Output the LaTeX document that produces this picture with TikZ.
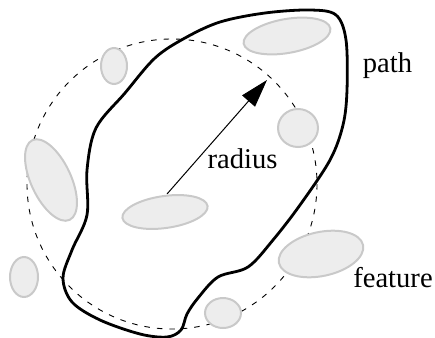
\documentclass[tikz,border=0pt]{standalone}
\usepackage{fontspec}
\setmainfont{Liberation Serif}
\usetikzlibrary{shapes.geometric,arrows.meta}
\tikzset{
  feat/.style={ellipse, draw=black!21, fill=black!7, line width=2pt, inner sep=0pt},
  lbl/.style={anchor=base, inner sep=0pt, font=\fontsize{28.6}{30}\selectfont},
  bound/.style={dashed, dash pattern=on 5.5pt off 7pt, line width=0.9pt},
  outline/.style={line width=2.8pt, line join=round}
}
\begin{document}
\begin{tikzpicture}[x=1pt,y=-1pt]
\useasboundingbox (0,0) rectangle (435,337);
% dashed radius circle
\coordinate (c) at (172,184);
\draw[bound] (c) circle [radius=145];
% radius arrow
\coordinate (rs) at (167,194);
\coordinate (rt) at (267,80);
\draw[line width=1pt, -{Triangle[length=28pt,width=17pt]}] (rs) -- (rt);
% features
\node[feat, minimum width=26pt, minimum height=36pt] (e1) at (114,66) {};
\node[feat, minimum width=88pt, minimum height=34pt, rotate=10] (e2) at (287,36) {};
\node[feat, minimum width=40pt, minimum height=38pt] (e3) at (298,128) {};
\node[feat, minimum width=88pt, minimum height=40pt, rotate=-65] (e4) at (51,180) {};
\node[feat, minimum width=86pt, minimum height=32pt, rotate=8] (e5) at (165,212) {};
\node[feat, minimum width=28pt, minimum height=40pt] (e6) at (24,277) {};
\node[feat, minimum width=86pt, minimum height=44pt, rotate=12] (e7) at (321,254) {};
\node[feat, minimum width=36pt, minimum height=30pt] (e8) at (223,313) {};
% path outline
\draw[outline] plot[smooth cycle, tension=0.55] coordinates {
 (220,22) (265,13) (310,10) (336,15) (346,40) (347,90) (343,125) (330,160)
 (300,205) (273,240) (248,267) (218,277) (198,298) (187,314) (181,330) (167,337)
 (140,334) (100,320) (72,302) (63,278) (72,250) (87,215) (87,170) (96,128)
 (125,93) (155,58) (185,38)};
% labels
\node[lbl] (lpath) at (387.5,72) {path};
\node[lbl] (lradius) at (242.5,168) {radius};
\node[lbl] (lfeature) at (393,287) {feature};
\end{tikzpicture}
\end{document}
